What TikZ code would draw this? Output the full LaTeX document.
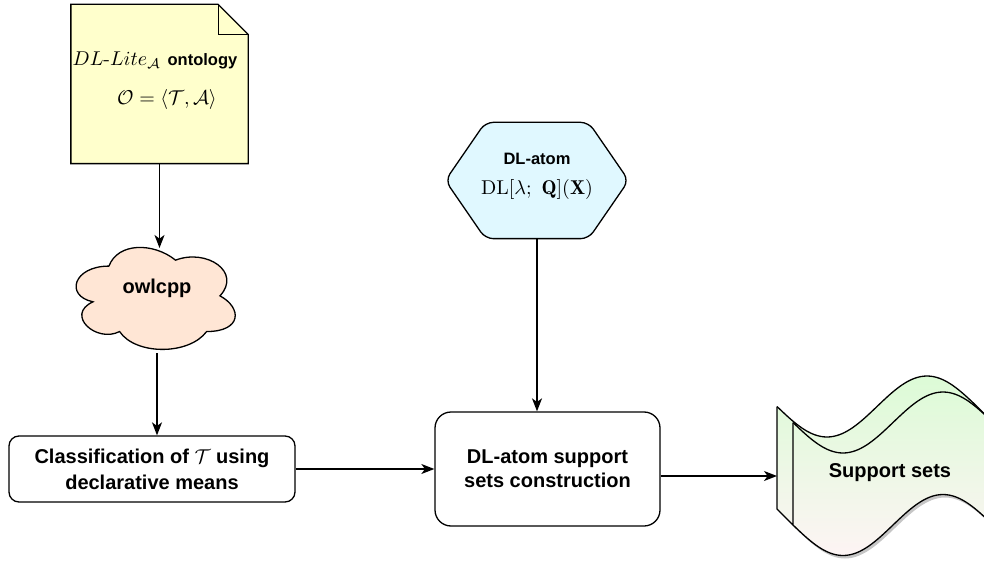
\documentclass[tikz,border=0pt]{standalone}
\usepackage{fontspec}
\setsansfont{Liberation Sans}
\usetikzlibrary{arrows.meta,calc}
\definecolor{notey}{HTML}{FFFFCC}
\definecolor{cloudc}{HTML}{FFE6D5}
\definecolor{hexc}{HTML}{E0F8FF}
\definecolor{supg}{HTML}{DCFBD6}
\definecolor{supp}{HTML}{FDF4F4}
\begin{document}
\begin{tikzpicture}[x=0.5pt,y=-0.5pt, line width=0.65pt,
  arr/.style={-{Stealth[length=6.5pt,width=5pt,inset=1.8pt]}, line width=0.65pt},
  lbl/.style={font=\sffamily\bfseries\fontsize{10}{13}\selectfont, align=center, inner sep=0pt},
  sml/.style={font=\sffamily\bfseries\fontsize{8.25}{10}\selectfont, inner sep=0pt},
  mth/.style={font=\normalsize, inner sep=0pt},
  box/.style={draw, rounded corners=5pt, fill=white},
  holder/.style={inner sep=0pt, draw=none}]
\useasboundingbox (0,0) rectangle (984,561);

% note
\node[holder, minimum width=88pt, minimum height=79pt] (note) at (159.5,84) {};
\draw[fill=notey] (note.north west) -- ([xshift=-15pt]note.north east) -- ([yshift=-15pt]note.north east) -- (note.south east) -- (note.south west) -- cycle;
\draw ([xshift=-15pt]note.north east) -- ([xshift=-15pt,yshift=-15pt]note.north east) -- ([yshift=-15pt]note.north east);
\node[mth] (nt1) at (155,60) {$DL\mbox{-}Lite_{\mathcal{A}}$ {\sffamily\bfseries\fontsize{8.25}{10}\selectfont ontology}};
\node[mth] (nt2) at (167,100) {$\mathcal{O} = \langle\mathcal{T},\mathcal{A}\rangle$};

% cloud
\node[holder, minimum width=88.8pt, minimum height=59.5pt] (cloud) at (154,296.5) {};
\begin{scope}[shift={(cloud.north west)}, x=88.8pt, y=-59.5pt]
\draw[fill=cloudc] (0.25,0.25) .. controls (0.05,0.25) and (0,0.5) .. (0.16,0.55)
  .. controls (0,0.66) and (0.18,0.9) .. (0.31,0.8)
  .. controls (0.4,1) and (0.7,1) .. (0.8,0.8)
  .. controls (1,0.8) and (1,0.6) .. (0.875,0.5)
  .. controls (1,0.3) and (0.8,0.1) .. (0.625,0.2)
  .. controls (0.5,0.05) and (0.3,0.05) .. (0.25,0.25) -- cycle;
\end{scope}
\node[lbl] (owl) at (157,288) {owlcpp};

% classification box
\node[box, lbl, minimum width=143pt, minimum height=33pt] (cls) at (152,469) {Classification of $\mathcal{T}$ using\\declarative means};

% DL-atom support sets construction
\node[box, lbl, font=\sffamily\bfseries\fontsize{10}{12}\selectfont, rounded corners=8pt, minimum width=112.5pt, minimum height=57pt] (dlb) at (547.5,469) {DL-atom support\\sets construction};

% hexagon
\node[holder, minimum width=91pt, minimum height=57.5pt] (hex) at (537,180.5) {};
\draw[fill=hexc, rounded corners=4pt] (hex.north) -- ([xshift=-20pt]hex.north east) -- (hex.east) -- ([xshift=-20pt]hex.south east) -- ([xshift=20pt]hex.south west) -- (hex.west) -- ([xshift=20pt]hex.north west) -- cycle;
\node[sml] (hexh) at (537,159) {DL-atom};
\node[mth] (hexf) at (537,190) {$\mathrm{DL}[\lambda;\ \mathbf{Q}](\mathbf{X})$};

% support sets
\fill[gray!45, shift={(2,3)}] (777,406.5) sin (827,437) cos (877,406.5) sin (927,376) cos (977,406.5) -- (993,422.5) -- (993,525) sin (943,494.5) cos (893,525) sin (843,555.5) cos (793,525) -- (777,509) -- cycle;
\shade[top color=supg, bottom color=supp] (777,406.5) sin (827,437) cos (877,406.5) sin (927,376) cos (977,406.5) -- (993,422.5) -- (993,525) sin (943,494.5) cos (893,525) sin (843,555.5) cos (793,525) -- (777,509) -- cycle;
\draw (777,406.5) sin (827,437) cos (877,406.5) sin (927,376) cos (977,406.5);
\draw (793,422.5) sin (843,453) cos (893,422.5) sin (943,392) cos (993,422.5);
\draw (793,525) sin (843,555.5) cos (893,525) sin (943,494.5) cos (993,525);
\draw[line join=round] (777,406.5) -- (777,509) -- (793,525) -- (793,422.5);
\draw (977,406.5) -- (993,422.5) -- (993,525);
\node[lbl] (supt) at (890,473) {Support sets};
\coordinate (supin) at (777,476);

% connectors
\coordinate (cloudtop) at (160,248);
\coordinate (cloudbot) at (157,353);
\draw[arr] (note.south) -- (note.south |- cloudtop);
\draw[arr] (cloudbot) -- (cloudbot |- cls.north);
\draw[arr] (cls.east) -- (dlb.west);
\draw[arr] (hex.south) -- (hex.south |- dlb.north);
\draw[arr] (dlb.east |- supin) -- (supin);
\end{tikzpicture}
\end{document}
